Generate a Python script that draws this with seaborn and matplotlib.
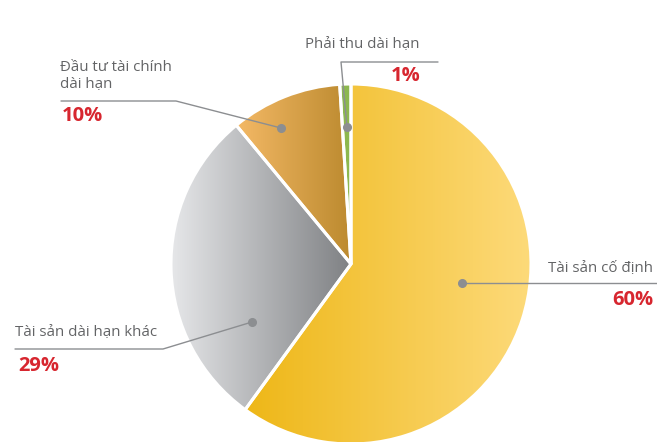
import numpy as np
import seaborn as sns
import matplotlib.pyplot as plt
from matplotlib.colors import LinearSegmentedColormap

# Data
labels = ["Tài sản cố định", "Tài sản dài hạn khác", "Đầu tư tài chính\ndài hạn", "Phải thu dài hạn"]
values = [60, 29, 10, 1]
pct_labels = ["60%", "29%", "10%", "1%"]
# gradient (left -> right) colours of each slice
grad_left = ["#EEB717", "#E6E7E9", "#F4B966", "#8DB84F"]
grad_right = ["#FDDA7A", "#7F8184", "#BC8A2F", "#8DB84F"]

sns.set_theme(style="white")
plt.rcParams['font.family'] = ['Open Sans', 'DejaVu Sans']

W, H = 657, 442
fig = plt.figure(figsize=(W / 100, H / 100), dpi=100)
ax = fig.add_axes([0, 0, 1, 1])

cx, cy, r = 351, H - 264, 180

wedges, _ = ax.pie(
    values,
    center=(cx, cy),
    radius=r,
    startangle=90,
    counterclock=False,
    explode=[0.012, 0.02, 0.0, 0.0],
    wedgeprops=dict(edgecolor='white', linewidth=2.2),
    frame=True,
)
ax.set_xlim(0, W)
ax.set_ylim(0, H)
ax.set_aspect('equal')
ax.axis('off')

# horizontal gradient fill clipped to each wedge
for w, c1, c2 in zip(wedges, grad_left, grad_right):
    bb = w.get_path().get_extents(w.get_patch_transform())
    cmap = LinearSegmentedColormap.from_list("g", [c1, c2])
    grad = np.linspace(0, 1, 256).reshape(1, -1)
    im = ax.imshow(grad, cmap=cmap, aspect='auto',
                   extent=[bb.x0, bb.x1, bb.y0, bb.y1], zorder=1)
    im.set_clip_path(w)
    w.set_facecolor('none')
    w.set_zorder(2)
ax.set_xlim(0, W)
ax.set_ylim(0, H)

txt_col = "#636466"
red = "#D7262F"
line_col = "#8C8E91"
fs = 10.8
pfs = 14.5

def leader(pts):
    xs = [p[0] for p in pts]
    ys = [H - p[1] for p in pts]
    ax.plot(xs, ys, color=line_col, lw=1, zorder=3)
    ax.plot(xs[0], ys[0], 'o', color=line_col, ms=5.5, zorder=4)

# Tài sản cố định
leader([(462, 283), (657, 283)])
ax.text(653, H - 268, labels[0], color=txt_col, fontsize=fs, ha='right', va='center')
ax.text(653, H - 300, pct_labels[0], color=red, fontsize=pfs, fontweight='bold', ha='right', va='center')

# Tài sản dài hạn khác
leader([(252, 322), (163, 349), (15, 349)])
ax.text(15, H - 333, labels[1], color=txt_col, fontsize=fs, ha='left', va='center')
ax.text(18, H - 366, pct_labels[1], color=red, fontsize=pfs, fontweight='bold', ha='left', va='center')

# Đầu tư tài chính dài hạn
leader([(281, 128), (176, 101), (61, 101)])
ax.text(60, H - 76, labels[2], color=txt_col, fontsize=fs, ha='left', va='center', linespacing=1.2)
ax.text(62, H - 116, pct_labels[2], color=red, fontsize=pfs, fontweight='bold', ha='left', va='center')

# Phải thu dài hạn
leader([(347, 127), (341, 62), (438, 62)])
ax.text(305, H - 45, labels[3], color=txt_col, fontsize=fs, ha='left', va='center')
ax.text(391, H - 76, pct_labels[3], color=red, fontsize=pfs, fontweight='bold', ha='left', va='center')

fig.savefig("out.png", dpi=100)
